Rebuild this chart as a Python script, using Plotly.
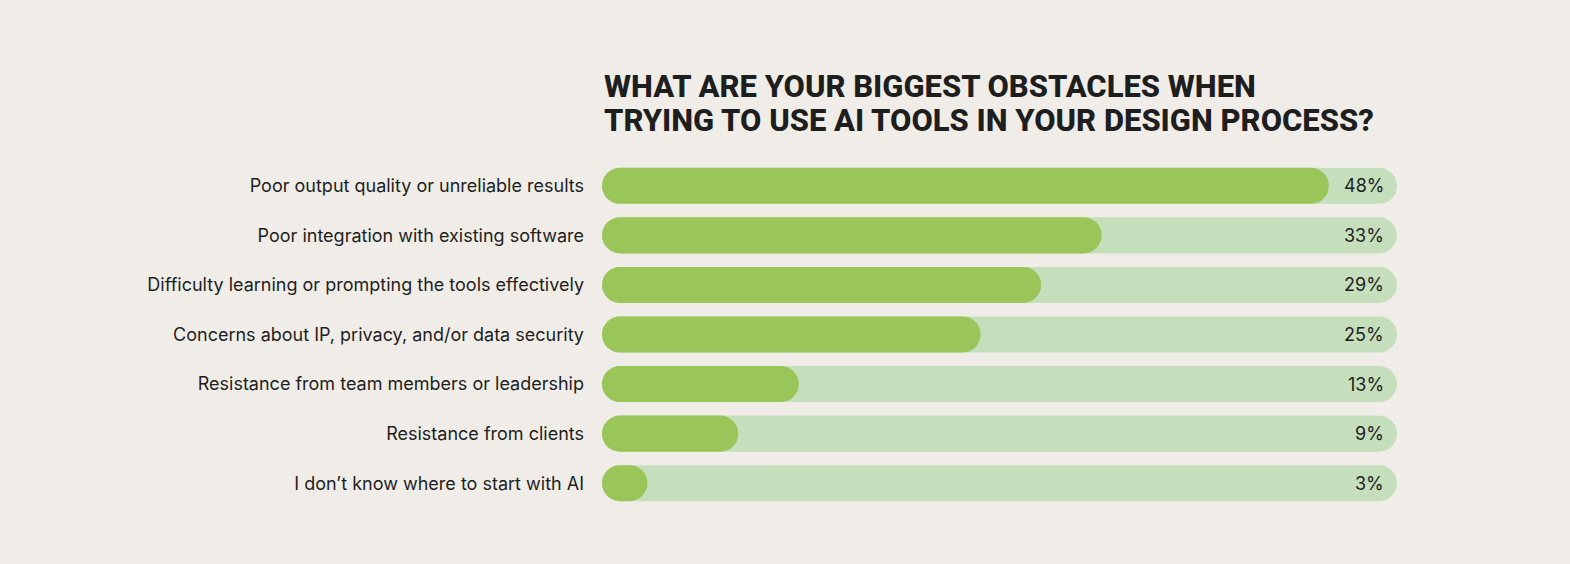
import plotly.graph_objects as go

categories = [
    "Poor output quality or unreliable results",
    "Poor integration with existing software",
    "Difficulty learning or prompting the tools effectively",
    "Concerns about IP, privacy, and/or data security",
    "Resistance from team members or leadership",
    "Resistance from clients",
    "I don’t know where to start with AI",
]
values = [48, 33, 29, 25, 13, 9, 3]
title_lines = ["WHAT ARE YOUR BIGGEST OBSTACLES WHEN", "TRYING TO USE AI TOOLS IN YOUR DESIGN PROCESS?"]

AXIS_MAX = 52.5
BG = "#F0EDE8"
FILL = "#9AC558"
TRACK = "#C5DFBD"
INK = "#1E1E1E"
R = 18


def pill(vals, color):
    return go.Bar(
        y=categories, x=vals, base=[0] * len(vals), orientation="h",
        marker=dict(color=color, cornerradius=R, line=dict(width=0)),
        hoverinfo="skip", showlegend=False,
    )


fig = go.Figure()
fig.add_trace(pill([AXIS_MAX] * len(categories), TRACK))
fig.add_trace(pill(values, FILL))

for cat, v in zip(categories, values):
    fig.add_annotation(
        x=AXIS_MAX, y=cat, xref="x", yref="y", text=f"{v}%",
        xanchor="right", xshift=-11, showarrow=False,
        font=dict(family="Inter", size=18, color=INK),
    )

fig.update_layout(
    width=1570, height=564,
    paper_bgcolor=BG, plot_bgcolor=BG,
    barmode="overlay", bargap=0.273,
    margin=dict(l=602, r=173, t=161, b=56),
    xaxis=dict(range=[0, AXIS_MAX], visible=False, fixedrange=True),
    yaxis=dict(autorange="reversed", showgrid=False, zeroline=False, showline=False,
               ticks="", ticklabelstandoff=17,
               tickfont=dict(family="Inter", size=18, color=INK)),
    font=dict(family="Inter", color=INK),
)
title_baselines_px = [100, 134]
for line, yb in zip(title_lines, title_baselines_px):
    fig.add_annotation(
        text=line, xref="paper", yref="paper", x=0, y=1,
        xanchor="left", yanchor="bottom", yshift=161 - yb - 7, align="left", showarrow=False,
        font=dict(family="Roboto", size=31, color=INK, weight=800),
    )
fig.write_html("out.html")
